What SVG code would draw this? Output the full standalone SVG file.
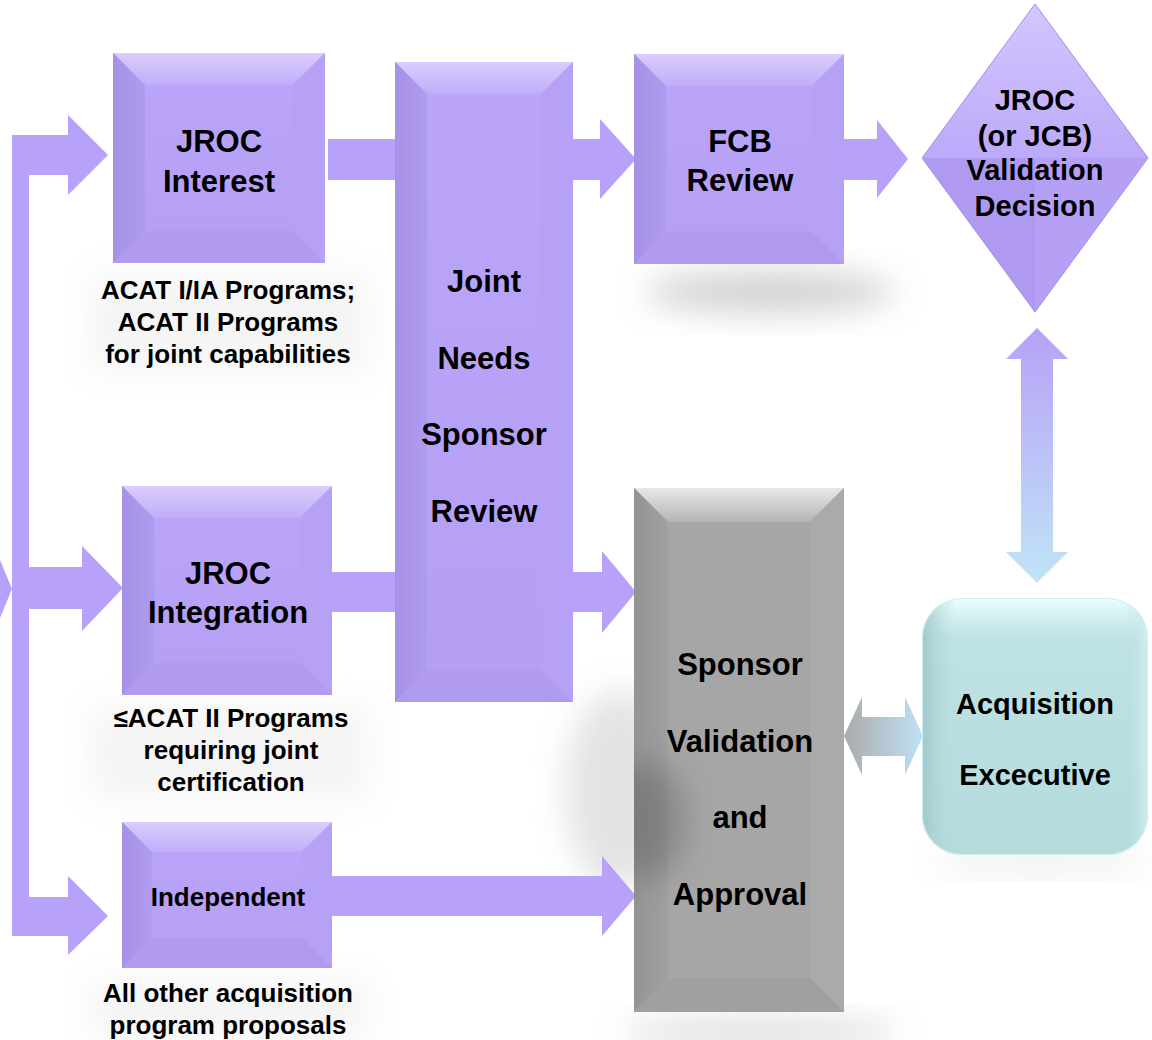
<svg xmlns="http://www.w3.org/2000/svg" width="1152" height="1040" viewBox="0 0 1152 1040">
<style>
text{font-family:"Liberation Sans",Arial,Helvetica,sans-serif;font-weight:bold;fill:#000;text-anchor:middle}
.lbl{font-size:31px}
.cap{font-size:26px}
.dia{font-size:29px}
.arr{fill:#B8A1F8}
.pf{fill:url(#pFace)}
.pt{fill:url(#pTop)}
.pl{fill:url(#pLeft)}
.pr{fill:#B6A1F6}
.pb{fill:#B09BF1}
.gf{fill:#A6A6A6}
.gt{fill:url(#gTop)}
.gl{fill:url(#gLeft)}
.gr{fill:#AAAAAA}
.gb{fill:#A0A0A0}
.sh{filter:url(#blur)}
</style>
<defs>
<linearGradient id="pFace" x1="0" y1="0" x2="0" y2="1"><stop offset="0" stop-color="#BAA5F9"/><stop offset="1" stop-color="#B49FF5"/></linearGradient>
<linearGradient id="pTop" x1="0" y1="0" x2="0" y2="1"><stop offset="0" stop-color="#DACDFD"/><stop offset="1" stop-color="#C0ADF9"/></linearGradient>
<linearGradient id="pLeft" x1="0" y1="0" x2="1" y2="0"><stop offset="0" stop-color="#A691E6"/><stop offset="1" stop-color="#AF9BEF"/></linearGradient>
<linearGradient id="gTop" x1="0" y1="0" x2="0" y2="1"><stop offset="0" stop-color="#E8E8E8"/><stop offset="1" stop-color="#B4B4B4"/></linearGradient>
<linearGradient id="gLeft" x1="0" y1="0" x2="1" y2="0"><stop offset="0" stop-color="#949494"/><stop offset="1" stop-color="#A0A0A0"/></linearGradient>
<linearGradient id="vArr" x1="0" y1="0" x2="0" y2="1"><stop offset="0" stop-color="#B7A1F7"/><stop offset="1" stop-color="#C0E4F6"/></linearGradient>
<linearGradient id="hArr" x1="0" y1="0" x2="1" y2="0"><stop offset="0" stop-color="#ABABAB"/><stop offset="1" stop-color="#BFE2F6"/></linearGradient>
<linearGradient id="acqFill" x1="0" y1="0" x2="0" y2="1"><stop offset="0" stop-color="#E8FFFF"/><stop offset="0.15" stop-color="#BFE2E4"/><stop offset="1" stop-color="#B5DBDD"/></linearGradient>
<linearGradient id="acqLeft" x1="0" y1="0" x2="1" y2="0"><stop offset="0" stop-color="#9CC6C8" stop-opacity="0.9"/><stop offset="0.15" stop-color="#B8DDDF" stop-opacity="0"/><stop offset="0.9" stop-color="#B8DDDF" stop-opacity="0"/><stop offset="1" stop-color="#D8F2F3" stop-opacity="0.8"/></linearGradient>
<linearGradient id="diaTop" x1="0" y1="0" x2="0" y2="1"><stop offset="0" stop-color="#D4C6FD"/><stop offset="1" stop-color="#BDA9F9"/></linearGradient>
<filter id="blur" x="-50%" y="-50%" width="200%" height="200%"><feGaussianBlur stdDeviation="16"/></filter>
<clipPath id="greyClip"><rect x="634" y="488" width="210" height="524"/></clipPath>
</defs>

<g id="shadows">
<ellipse class="sh" cx="770" cy="292" rx="125" ry="22" fill="#A8A8A8" opacity="0.5"/>
<ellipse class="sh" cx="620" cy="790" rx="55" ry="100" fill="#B0B0B0" opacity="0.35"/>
<ellipse class="sh" cx="760" cy="1032" rx="140" ry="14" fill="#A8A8A8" opacity="0.4"/>
<rect class="sh" x="90" y="272" width="280" height="100" fill="#E8E8E8" opacity="0.45"/>
<rect class="sh" x="90" y="705" width="280" height="95" fill="#E8E8E8" opacity="0.45"/>
<rect class="sh" x="90" y="980" width="280" height="60" fill="#E8E8E8" opacity="0.45"/>
<ellipse class="sh" cx="1040" cy="862" rx="110" ry="10" fill="#C4C4C4" opacity="0.35"/>
</g>

<g id="connectors">
<polygon class="arr" points="0,560 12,589 0,618"/>
<rect class="arr" x="12" y="135" width="17" height="801"/>
<rect class="arr" x="12" y="135" width="57" height="40"/>
<polygon class="arr" points="68,115 108,155 68,195"/>
<rect class="arr" x="28" y="567" width="55" height="42"/>
<polygon class="arr" points="82,546 123,588 82,631"/>
<rect class="arr" x="12" y="897" width="57" height="39"/>
<polygon class="arr" points="68,876 108,916 68,955"/>
<rect class="arr" x="328" y="139" width="68" height="41"/>
<rect class="arr" x="572" y="139" width="30" height="41"/>
<polygon class="arr" points="600,119 636,159 600,199"/>
<rect class="arr" x="843" y="139" width="36" height="41"/>
<polygon class="arr" points="877,120 908,159 877,198"/>
<rect class="arr" x="328" y="572" width="68" height="40"/>
<rect class="arr" x="572" y="572" width="32" height="40"/>
<polygon class="arr" points="602,551 636,592 602,633"/>
<rect class="arr" x="330" y="876" width="274" height="40"/>
<polygon class="arr" points="602,856 636,896 602,936"/>
<polygon fill="url(#vArr)" points="1037,328 1068,359 1053,359 1053,552 1068,552 1037,583 1006,552 1021,552 1021,359 1006,359"/>
<polygon fill="url(#hArr)" points="844,736 862,697 862,717 905,717 905,697 923,736 905,775 905,756 862,756 862,775"/>
</g>

<g id="jroc-interest">
<rect class="pf" x="113" y="53" width="212" height="210"/>
<polygon class="pt" points="113,53 325,53 293,85 145,85"/>
<polygon class="pl" points="113,53 145,85 145,231 113,263"/>
<polygon class="pr" points="325,53 325,263 293,231 293,85"/>
<polygon class="pb" points="113,263 145,231 293,231 325,263"/>
<text class="lbl" x="219" y="152">JROC</text>
<text class="lbl" x="219" y="192">Interest</text>
<text class="cap" x="228" y="299">ACAT I/IA Programs;</text>
<text class="cap" x="228" y="331">ACAT II Programs</text>
<text class="cap" x="228" y="363">for joint capabilities</text>
</g>

<g id="joint-needs-sponsor-review">
<rect class="pf" x="395" y="62" width="178" height="640"/>
<polygon class="pt" points="395,62 573,62 541,94 427,94"/>
<polygon class="pl" points="395,62 427,94 427,670 395,702"/>
<polygon class="pr" points="573,62 573,702 541,670 541,94"/>
<polygon class="pb" points="395,702 427,670 541,670 573,702"/>
<text class="lbl" x="484" y="292">Joint</text>
<text class="lbl" x="484" y="369">Needs</text>
<text class="lbl" x="484" y="445">Sponsor</text>
<text class="lbl" x="484" y="522">Review</text>
</g>

<g id="fcb-review">
<rect class="pf" x="634" y="54" width="210" height="210"/>
<polygon class="pt" points="634,54 844,54 812,86 666,86"/>
<polygon class="pl" points="634,54 666,86 666,232 634,264"/>
<polygon class="pr" points="844,54 844,264 812,232 812,86"/>
<polygon class="pb" points="634,264 666,232 812,232 844,264"/>
<text class="lbl" x="740" y="152">FCB</text>
<text class="lbl" x="740" y="191">Review</text>
</g>

<g id="jroc-validation-decision">
<polygon fill="#B6A0F6" points="1035,4 1148,158 1035,312 922,158"/>
<polygon fill="url(#diaTop)" points="1035,4 1148,158 922,158"/>
<polygon fill="#B09AF1" points="922,158 1035,158 1035,312"/>
<polygon fill="none" stroke="#A590E6" stroke-width="1" points="1035,4 1148,158 1035,312 922,158"/>
<text class="dia" x="1035" y="110">JROC</text>
<text class="dia" x="1035" y="146">(or JCB)</text>
<text class="dia" x="1035" y="180">Validation</text>
<text class="dia" x="1035" y="216">Decision</text>
</g>

<g id="jroc-integration">
<rect class="pf" x="122" y="486" width="210" height="209"/>
<polygon class="pt" points="122,486 332,486 300,518 154,518"/>
<polygon class="pl" points="122,486 154,518 154,663 122,695"/>
<polygon class="pr" points="332,486 332,695 300,663 300,518"/>
<polygon class="pb" points="122,695 154,663 300,663 332,695"/>
<text class="lbl" x="228" y="584">JROC</text>
<text class="lbl" x="228" y="623">Integration</text>
<text class="cap" x="231" y="727">≤ACAT II Programs</text>
<text class="cap" x="231" y="759">requiring joint</text>
<text class="cap" x="231" y="791">certification</text>
</g>

<g id="independent">
<rect class="pf" x="122" y="822" width="210" height="146"/>
<polygon class="pt" points="122,822 332,822 302,852 152,852"/>
<polygon class="pl" points="122,822 152,852 152,938 122,968"/>
<polygon class="pr" points="332,822 332,968 302,938 302,852"/>
<polygon class="pb" points="122,968 152,938 302,938 332,968"/>
<text class="cap" x="228" y="906">Independent</text>
<text class="cap" x="228" y="1002">All other acquisition</text>
<text class="cap" x="228" y="1034">program proposals</text>
</g>

<g id="sponsor-validation-approval">
<rect class="gf" x="634" y="488" width="210" height="524"/>
<polygon class="gt" points="634,488 844,488 810,522 668,522"/>
<polygon class="gl" points="634,488 668,522 668,978 634,1012"/>
<polygon class="gr" points="844,488 844,1012 810,978 810,522"/>
<polygon class="gb" points="634,1012 668,978 810,978 844,1012"/>
<g clip-path="url(#greyClip)"><ellipse class="sh" cx="645" cy="820" rx="40" ry="60" fill="#555" opacity="0.4"/></g>
<text class="lbl" x="740" y="675">Sponsor</text>
<text class="lbl" x="740" y="752">Validation</text>
<text class="lbl" x="740" y="828">and</text>
<text class="lbl" x="740" y="905">Approval</text>
</g>

<g id="acquisition-executive">
<rect x="922" y="598" width="226" height="257" rx="40" fill="url(#acqFill)"/>
<rect x="922" y="598" width="226" height="257" rx="40" fill="url(#acqLeft)"/>
<rect x="922.5" y="598.5" width="225" height="256" rx="40" fill="none" stroke="#CFEFF0" stroke-width="1"/>
<text class="dia" x="1035" y="714">Acquisition</text>
<text class="dia" x="1035" y="785">Excecutive</text>
</g>
</svg>
